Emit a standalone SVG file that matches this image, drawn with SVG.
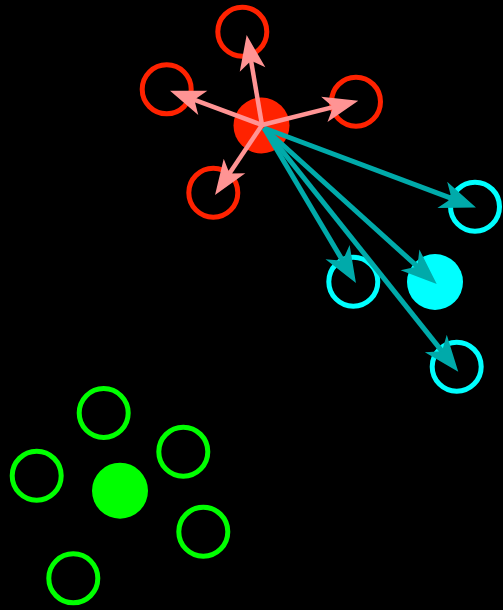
<svg xmlns="http://www.w3.org/2000/svg" width="503" height="610" viewBox="0 0 503 610">
<style>
.bg{fill:#000}
.rf{fill:#ff2200}
.rh{fill:none;stroke:#ff2200;stroke-width:5}
.cf{fill:#00ffff}
.ch{fill:none;stroke:#00ffff;stroke-width:5}
.gf{fill:#00ff00}
.gh{fill:none;stroke:#00ff00;stroke-width:5}
.pk{stroke:#ff9494;stroke-width:4.5;fill:none;marker-end:url(#ap)}
.tl{stroke:#00aaaa;stroke-width:5;fill:none;marker-end:url(#at)}
</style>
<defs>
<marker id="ap" markerUnits="userSpaceOnUse" orient="auto" refX="0" refY="0" markerWidth="40" markerHeight="30" style="overflow:visible">
<path d="M24,0 L-11,-13 L-2,0 L-11,13 Z" fill="#ff9494"/>
</marker>
<marker id="at" markerUnits="userSpaceOnUse" orient="auto" refX="0" refY="0" markerWidth="40" markerHeight="30" style="overflow:visible">
<path d="M24,0 L-12,-14 L-2,0 L-12,14 Z" fill="#00aaaa"/>
</marker>
</defs>
<rect class="bg" x="0" y="0" width="503" height="610"/>
<g id="red-center"><circle class="rf" cx="261.5" cy="125.5" r="28"/></g>
<g id="red-1"><circle class="rh" cx="242.3" cy="31.7" r="24.5"/></g>
<g id="red-2"><circle class="rh" cx="166.7" cy="89.3" r="24.5"/></g>
<g id="red-3"><circle class="rh" cx="356" cy="101.7" r="24.5"/></g>
<g id="red-4"><circle class="rh" cx="213.3" cy="192.7" r="24.5"/></g>
<g id="cyan-center"><circle class="cf" cx="435" cy="282" r="28"/></g>
<g id="cyan-1"><circle class="ch" cx="475" cy="206.7" r="24.5"/></g>
<g id="cyan-2"><circle class="ch" cx="353.3" cy="281.7" r="24.5"/></g>
<g id="cyan-3"><circle class="ch" cx="456.7" cy="366.7" r="24.5"/></g>
<g id="green-center"><circle class="gf" cx="120" cy="490.7" r="28"/></g>
<g id="green-1"><circle class="gh" cx="103.7" cy="413" r="24.5"/></g>
<g id="green-2"><circle class="gh" cx="183.3" cy="451.7" r="24.5"/></g>
<g id="green-3"><circle class="gh" cx="36.7" cy="475.7" r="24.5"/></g>
<g id="green-4"><circle class="gh" cx="203.3" cy="531.7" r="24.5"/></g>
<g id="green-5"><circle class="gh" cx="73.3" cy="578.3" r="24.5"/></g>
<g id="connectors">
<line class="tl" x1="264" y1="128" x2="453.5" y2="199.1"/>
<line class="tl" x1="264" y1="128" x2="343.7" y2="262.4"/>
<line class="tl" x1="264" y1="128" x2="418.9" y2="267.9"/>
<line class="tl" x1="264" y1="128" x2="443.3" y2="352.9"/>
<line class="pk" x1="262" y1="125" x2="250.7" y2="58.7"/>
<line class="pk" x1="262" y1="125" x2="192.5" y2="99.1"/>
<line class="pk" x1="262" y1="125" x2="335" y2="106.6"/>
<line class="pk" x1="262" y1="125" x2="228.4" y2="175.1"/>
</g>
</svg>
